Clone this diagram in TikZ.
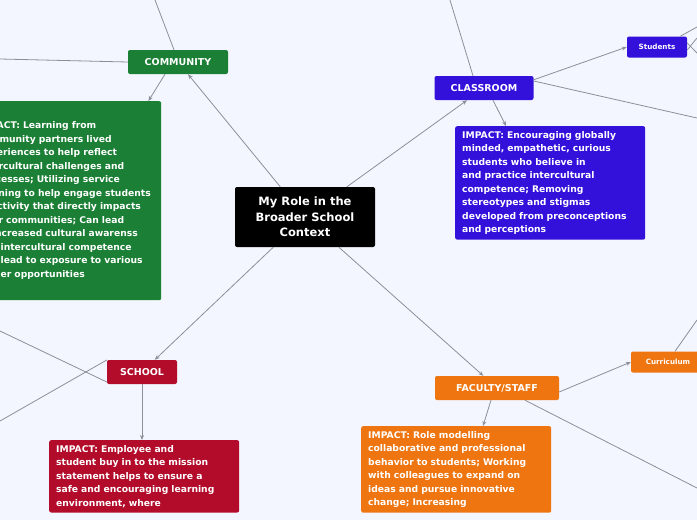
\documentclass[tikz,border=0pt]{standalone}
\usepackage{fontspec}
\setmainfont{DejaVu Sans}
\usetikzlibrary{arrows.meta,positioning}
\hyphenpenalty=10000
\exhyphenpenalty=10000
\definecolor{bgc}{HTML}{F3F6FE}
\definecolor{linec}{HTML}{8A8F99}
\definecolor{commc}{HTML}{1B8035}
\definecolor{classc}{HTML}{3411DB}
\definecolor{schoolc}{HTML}{B20C2A}
\definecolor{facc}{HTML}{EE7510}
\tikzset{
	topic/.style={rounded corners=2pt, text=white, font=\bfseries\fontsize{9.5}{11}\selectfont, inner sep=0pt, align=center},
	impact/.style={rounded corners=2pt, text=white, font=\bfseries\fontsize{9.2}{13.5}\selectfont, inner xsep=7pt, inner ysep=5pt, text width=176pt, align=left, anchor=north west},
	small/.style={topic, font=\bfseries\fontsize{7.2}{8}\selectfont},
	link/.style={draw=linec, line width=0.8pt},
	arr/.style={link, -{Stealth[length=5pt,width=4pt]}}
}
\begin{document}
\begin{tikzpicture}[x=1pt,y=-1pt]
	\useasboundingbox (0,0) rectangle (697,520);
	\fill[bgc] (0,0) rectangle (697,520);
	\clip (0,0) rectangle (697,520);
	
	% main topic
	\node[topic, fill=black, minimum width=140pt, minimum height=60pt, font=\bfseries\fontsize{11.5}{15.5}\selectfont] (role) at (305,217) {My Role in the\\Broader School\\Context};
	
	% community branch
	\node[topic, fill=commc, minimum width=100pt, minimum height=24pt] (community) at (178,62) {COMMUNITY};
	\node[impact, fill=commc, minimum height=199pt] (commimpact) at (-29,101) {IMPACT: Learning from community partners lived experiences to help reflect intercultural challenges and successes; Utilizing service learning to help engage students in activity that directly impacts their communities; Can lead to increased cultural awarenss and intercultural competence and lead to exposure to various career opportunities};
	\coordinate (commup) at (155,0);
	\coordinate (commleft) at (0,59);
	
	% classroom branch
	\node[topic, fill=classc, minimum width=99pt, minimum height=24pt] (classroom) at (484,88) {CLASSROOM};
	\node[impact, fill=classc] (classimpact) at (455,126) {IMPACT: Encouraging globally minded, empathetic, curious students who believe in and practice intercultural competence; Removing stereotypes and stigmas developed from preconceptions and perceptions};
	\node[small, fill=classc, minimum width=60pt, minimum height=21pt] (students) at (657,47) {Students};
	\coordinate (classup) at (450,0);
	\coordinate (classright) at (697,118);
	\coordinate (stuA) at (697,27);
	\coordinate (stuB) at (697,38);
	\coordinate (stuC) at (697,53);
	
	% school branch
	\node[topic, fill=schoolc, minimum width=70pt, minimum height=24pt] (school) at (142,372) {SCHOOL};
	\node[impact, fill=schoolc] (schoolimpact) at (49,440) {IMPACT: Employee and student buy in to the mission statement helps to ensure a safe and encouraging learning environment, where};
	\coordinate (schoolA) at (0,331);
	\coordinate (schoolB) at (0,421);
	
	% faculty branch
	\node[topic, fill=facc, minimum width=124pt, minimum height=24pt] (faculty) at (497,388) {FACULTY/STAFF};
	\node[impact, fill=facc] (facimpact) at (361,426) {IMPACT: Role modelling collaborative and professional behavior to students; Working with colleagues to expand on ideas and pursue innovative change; Increasing};
	\node[small, fill=facc, minimum width=74pt, minimum height=21pt] (curriculum) at (668,362) {Curriculum};
	\coordinate (curup) at (697,320);
	\coordinate (facright) at (697,488);
	
	% connectors
	\draw[arr] (role) -- (community);
	\draw[arr] ([xshift=-13pt]community.south) -- ([xshift=-13pt]commimpact.north east);
	\draw[link] ([xshift=-4pt]community.north) -- (commup);
	\draw[link] (community.west) -- (commleft);
	
	\draw[arr] (role) -- (classroom);
	\draw[arr] ([xshift=9pt]classroom.south) -- ([xshift=51pt]classimpact.north west);
	\draw[link] ([xshift=-11pt]classroom.north) -- (classup);
	\draw[arr] ([yshift=-4pt]classroom.north east) -- (students.west);
	\draw[link] ([yshift=7pt]classroom.east) -- (classright);
	\draw[link] ([xshift=-7pt]students.north east) -- (stuA);
	\draw[link] ([yshift=-3pt]students.east) -- (stuB);
	\draw[link] ([yshift=4pt]students.east) -- (stuC);
	
	\draw[arr] (role) -- (school);
	\draw[arr] (school.south) -- (schoolimpact.north -| school.south);
	\draw[link] ([yshift=-10pt]school.west) -- (schoolA);
	\draw[link] ([yshift=12pt]school.west) -- (schoolB);
	
	\draw[arr] (role) -- (faculty);
	\draw[arr] ([xshift=-6pt]faculty.south) -- ([xshift=122pt]facimpact.north west);
	\draw[arr] ([yshift=-4pt]faculty.east) -- (curriculum.west);
	\draw[link] ([xshift=28pt]faculty.south) -- (facright);
	\draw[link] ([xshift=7pt]curriculum.north) -- (curup);
\end{tikzpicture}
\end{document}
